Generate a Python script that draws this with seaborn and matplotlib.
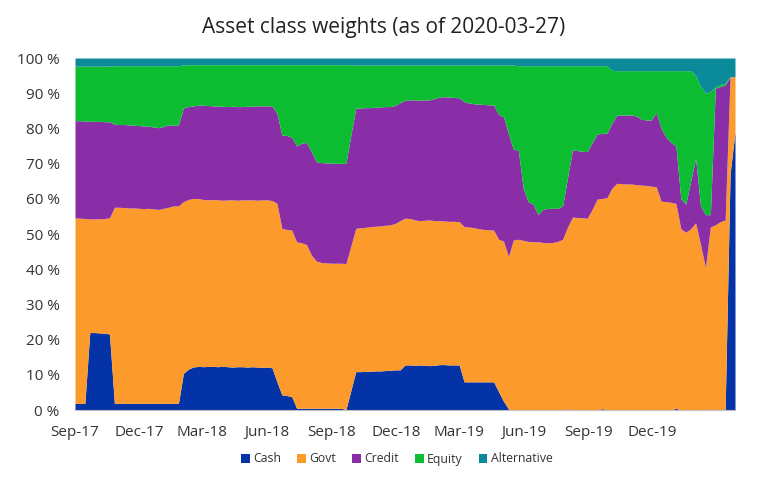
import numpy as np
import pandas as pd
import matplotlib
matplotlib.use("Agg")
import matplotlib.pyplot as plt
import matplotlib.dates as mdates
from matplotlib.patches import Patch
from matplotlib.ticker import FuncFormatter, MultipleLocator
import seaborn as sns

# ---- data (weekly) ----
start_date = "2017-09-01"
n_weeks = 135
series_names = ["Cash", "Govt", "Credit", "Equity", "Alternative"]

cash = [1.9, 1.9, 1.9, 22.0, 22.0, 21.9, 21.8, 21.6, 1.9, 1.9,
        1.9, 1.9, 1.9, 1.9, 1.9, 1.9, 1.9, 1.9, 1.9, 1.9,
        1.9, 1.9, 10.4, 11.6, 12.2, 12.4, 12.3, 12.4, 12.4, 12.3,
        12.4, 12.3, 12.2, 12.3, 12.3, 12.2, 12.3, 12.2, 12.1, 12.2,
        12.0, 8.0, 4.3, 4.1, 3.8, 0.5, 0.5, 0.5, 0.5, 0.5,
        0.5, 0.5, 0.5, 0.5, 0.5, 0.1, 5.5, 10.9, 10.9, 11.0,
        11.0, 11.1, 11.1, 11.2, 11.3, 11.4, 11.4, 12.8, 12.8, 12.7,
        12.8, 12.7, 12.6, 12.7, 12.9, 12.9, 12.8, 12.8, 12.8, 8.0,
        8.0, 8.0, 8.0, 8.0, 8.0, 8.0, 5.2, 2.5, 0.3, 0.0,
        0.0, 0.0, 0.0, 0.0, 0.0, 0.0, 0.0, 0.0, 0.0, 0.0,
        0.3, 0.0, 0.0, 0.0, 0.0, 0.0, 0.0, 0.4, 0.0, 0.0,
        0.0, 0.0, 0.0, 0.0, 0.0, 0.0, 0.0, 0.0, 0.0, 0.0,
        0.0, 0.0, 0.5, 0.0, 0.0, 0.0, 0.0, 0.0, 0.0, 0.3,
        0.0, 0.0, 0.0, 67.0, 79.0]

govt = [52.7, 52.6, 52.5, 32.3, 32.3, 32.4, 32.6, 33.0, 55.7, 55.7,
        55.6, 55.5, 55.5, 55.4, 55.3, 55.4, 55.2, 55.1, 55.4, 55.7,
        56.1, 56.1, 48.8, 48.2, 47.9, 47.7, 47.5, 47.3, 47.4, 47.4,
        47.2, 47.4, 47.5, 47.3, 47.4, 47.5, 47.4, 47.4, 47.6, 47.5,
        47.5, 50.7, 47.3, 47.2, 47.3, 47.3, 47.0, 46.5, 43.5, 41.8,
        41.4, 41.3, 41.2, 41.2, 41.2, 41.5, 41.0, 40.7, 40.9, 40.9,
        41.1, 41.1, 41.2, 41.3, 41.3, 41.6, 42.4, 41.7, 41.6, 41.3,
        41.0, 41.2, 41.4, 41.1, 40.9, 40.8, 40.8, 40.8, 40.7, 44.1,
        44.0, 43.8, 43.5, 43.3, 43.2, 43.1, 43.3, 45.5, 43.3, 48.3,
        48.5, 48.2, 47.9, 47.8, 47.8, 47.6, 47.5, 47.6, 47.9, 48.5,
        51.7, 54.8, 54.7, 54.6, 54.5, 57.0, 59.9, 59.7, 60.3, 63.0,
        64.4, 64.3, 64.2, 64.2, 64.0, 63.9, 63.8, 63.6, 63.4, 59.3,
        59.2, 59.0, 58.2, 51.5, 50.5, 51.5, 53.2, 47.0, 40.5, 51.7,
        52.6, 53.5, 54.0, 27.7, 15.7]

credit = [27.6, 27.7, 27.7, 27.7, 27.7, 27.7, 27.5, 27.3, 23.6, 23.5,
          23.6, 23.6, 23.5, 23.5, 23.5, 23.3, 23.3, 23.2, 23.3, 23.4,
          22.9, 23.0, 26.6, 26.4, 26.3, 26.5, 26.8, 26.8, 26.6, 26.6,
          26.7, 26.5, 26.6, 26.6, 26.5, 26.6, 26.6, 26.8, 26.7, 26.7,
          26.9, 25.6, 26.5, 26.7, 26.4, 27.2, 28.3, 29.0, 29.4, 28.2,
          28.4, 28.4, 28.4, 28.4, 28.4, 28.4, 31.5, 34.1, 34.0, 34.0,
          33.8, 33.8, 33.8, 33.7, 33.6, 33.5, 33.5, 33.5, 33.7, 34.1,
          34.2, 34.2, 34.1, 34.7, 35.1, 35.3, 35.3, 35.2, 35.2, 35.5,
          35.2, 35.2, 35.4, 35.5, 35.5, 35.5, 35.5, 35.3, 34.9, 25.7,
          25.4, 14.8, 11.3, 10.7, 7.7, 9.4, 9.8, 9.7, 9.4, 9.5,
          14.0, 19.1, 19.0, 18.9, 18.9, 19.0, 18.5, 18.5, 18.3, 18.5,
          19.4, 19.5, 19.6, 19.6, 19.5, 18.7, 18.6, 18.8, 21.1, 20.7,
          18.3, 17.0, 16.3, 8.5, 8.0, 13.5, 18.3, 11.0, 15.0, 3.5,
          38.8, 38.4, 38.3, 0.0, 0.0]

equity = [15.5, 15.5, 15.6, 15.7, 15.7, 15.7, 15.8, 15.8, 16.6, 16.7,
          16.7, 16.8, 16.9, 17.0, 17.1, 17.2, 17.4, 17.6, 17.2, 16.8,
          16.9, 16.8, 12.3, 11.9, 11.7, 11.5, 11.5, 11.6, 11.7, 11.8,
          11.8, 11.9, 11.8, 11.9, 11.9, 11.8, 11.8, 11.7, 11.7, 11.7,
          11.7, 13.8, 20.0, 20.1, 20.6, 23.1, 22.3, 22.1, 24.7, 27.6,
          27.8, 27.9, 28.0, 28.0, 28.0, 28.1, 20.1, 12.3, 12.2, 12.1,
          12.1, 12.0, 11.9, 11.8, 11.8, 11.5, 10.7, 10.0, 9.9, 9.9,
          10.0, 9.9, 9.9, 9.5, 9.1, 9.0, 9.1, 9.2, 9.3, 10.4,
          10.8, 11.0, 11.1, 11.2, 11.3, 11.4, 14.0, 14.7, 19.5, 24.0,
          23.9, 34.8, 38.6, 39.3, 42.3, 40.8, 40.5, 40.5, 40.5, 39.8,
          31.8, 23.9, 24.1, 24.3, 24.4, 21.8, 19.4, 19.2, 19.2, 15.0,
          12.6, 12.6, 12.6, 12.6, 12.9, 13.8, 14.0, 14.0, 11.9, 16.4,
          18.9, 20.4, 21.4, 36.4, 37.9, 31.4, 23.5, 34.0, 34.5, 35.0,
          0.4, 0.5, 0.6, 0.0, 0.0]

alternative = [2.3, 2.3, 2.3, 2.3, 2.3, 2.3, 2.3, 2.3, 2.2, 2.2,
               2.2, 2.2, 2.2, 2.2, 2.2, 2.2, 2.2, 2.2, 2.2, 2.2,
               2.2, 2.2, 1.9, 1.9, 1.9, 1.9, 1.9, 1.9, 1.9, 1.9,
               1.9, 1.9, 1.9, 1.9, 1.9, 1.9, 1.9, 1.9, 1.9, 1.9,
               1.9, 1.9, 1.9, 1.9, 1.9, 1.9, 1.9, 1.9, 1.9, 1.9,
               1.9, 1.9, 1.9, 1.9, 1.9, 1.9, 1.9, 2.0, 2.0, 2.0,
               2.0, 2.0, 2.0, 2.0, 2.0, 2.0, 2.0, 2.0, 2.0, 2.0,
               2.0, 2.0, 2.0, 2.0, 2.0, 2.0, 2.0, 2.0, 2.0, 2.0,
               2.0, 2.0, 2.0, 2.0, 2.0, 2.0, 2.0, 2.0, 2.0, 2.0,
               2.2, 2.2, 2.2, 2.2, 2.2, 2.2, 2.2, 2.2, 2.2, 2.2,
               2.2, 2.2, 2.2, 2.2, 2.2, 2.2, 2.2, 2.2, 2.2, 3.5,
               3.6, 3.6, 3.6, 3.6, 3.6, 3.6, 3.6, 3.6, 3.6, 3.6,
               3.6, 3.6, 3.6, 3.6, 3.6, 3.6, 5.0, 8.0, 10.0, 9.5,
               8.2, 7.6, 7.1, 5.3, 5.3]

colors = ["#0433a8", "#fd9a2c", "#8a2ea8", "#0cbd32", "#0b8b99"]
title = "Asset class weights (as of 2020-03-27)"

dates = pd.date_range(start_date, periods=n_weeks, freq="7D")
df = pd.DataFrame({"Cash": cash, "Govt": govt, "Credit": credit,
                   "Equity": equity, "Alternative": alternative}, index=dates)

sns.set_theme(style="white")
plt.rcParams["font.family"] = ["Open Sans", "DejaVu Sans"]

fig = plt.figure(figsize=(7.68, 4.88), dpi=100)
ax = fig.add_axes([75 / 768, 1 - 410 / 488, 660 / 768, 352 / 488])

ax.stackplot(df.index, [df[c].values for c in series_names],
             colors=colors, linewidth=0)

ax.set_xlim(dates[0], dates[-1])
ax.set_ylim(0, 100)
ax.yaxis.set_major_locator(MultipleLocator(10))
ax.yaxis.set_major_formatter(FuncFormatter(lambda v, p: f"{int(round(v))} %"))

xticks = pd.date_range("2017-09-01", "2019-12-01", freq="3MS")
ax.set_xticks(xticks)
ax.xaxis.set_major_formatter(mdates.DateFormatter("%b-%y"))

ax.tick_params(axis="both", length=0, labelsize=11, colors="#333333")
ax.tick_params(axis="x", pad=11)
ax.tick_params(axis="y", pad=11)

sns.despine(ax=ax, left=True, top=True, right=True)
ax.spines["bottom"].set_color("#bfbfbf")
ax.spines["bottom"].set_linewidth(0.8)
ax.grid(False)

fig.text(0.5, 1 - 28 / 488, title, ha="center", va="center",
         fontsize=15, color="#222222", fontweight="normal")

handles = [Patch(facecolor=c, edgecolor="none", label=n)
           for c, n in zip(colors, series_names)]
fig.legend(handles=handles, loc="center", bbox_to_anchor=(397 / 768, 1 - 459 / 488),
           ncol=5, frameon=False, fontsize=8.8, handlelength=0.7, handleheight=0.7,
           handletextpad=0.3, columnspacing=1.3, labelcolor="#333333")

fig.savefig("out.png", dpi=100)
